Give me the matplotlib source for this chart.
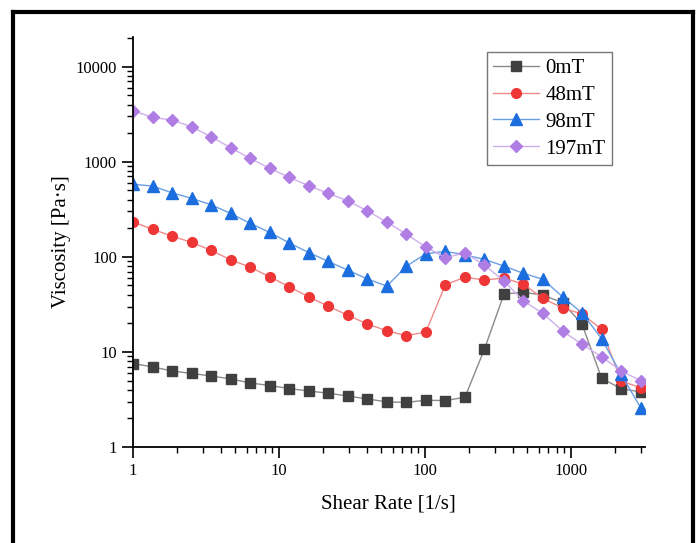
import numpy as np
import matplotlib.pyplot as plt
from matplotlib.lines import Line2D
from matplotlib.ticker import LogLocator, NullFormatter

plt.rcParams['font.family'] = ['Liberation Serif', 'DejaVu Serif']

shear_rate = [1, 1.361, 1.851, 2.519, 3.428, 4.664, 6.346, 8.635, 11.75, 15.99,
              21.75, 29.60, 40.27, 54.79, 74.55, 101.4, 138.0, 187.8, 255.5,
              347.6, 473.0, 643.6, 875.6, 1191, 1621, 2206, 3000]

visc_0mT = [7.55, 6.95, 6.31, 5.93, 5.59, 5.2, 4.72, 4.43, 4.12, 3.88, 3.68,
            3.44, 3.2, 2.98, 2.95, 3.1, 3.08, 3.33, 10.7, 40.5, 42.5, 39.5,
            33, 19.6, 5.3, 4.1, 3.8]
visc_48mT = [233, 195, 165, 142, 117, 93, 78, 61.6, 48.5, 37.9, 30.3, 24.3,
             19.7, 16.7, 14.8, 16.2, 51, 61, 57, 60, 51.5, 36.5, 29, 25,
             17.3, 4.95, 4.2]
visc_98mT = [580, 555, 472, 412, 353, 286, 225, 181, 140, 111, 89.5, 72.4,
             58.6, 49.2, 79.5, 108, 114, 105, 94, 80, 67, 58, 38, 25.7, 13.8,
             5.8, 2.6]
visc_197mT = [3440, 2930, 2745, 2335, 1833, 1403, 1086, 853, 686, 559, 465,
              388, 305, 232, 173, 127, 98, 110, 82, 55.7, 34.4, 25.4, 16.6,
              12, 8.9, 6.3, 5.0]

labels = ['0mT', '48mT', '98mT', '197mT']
series = [visc_0mT, visc_48mT, visc_98mT, visc_197mT]
marker_colors = ['#404040', '#ee3636', '#1c6ede', '#b07de4']
line_colors = ['#8a8a8a', '#f08a8a', '#6a9fe6', '#cfaeef']
markers = ['s', 'o', '^', 'D']
msizes = [6.5, 7, 8, 6.5]

fig = plt.figure(figsize=(7, 5.43), dpi=100)
ax = fig.add_axes([0.19, 0.1768, 0.731, 0.755])

for y, lab, mc, lc, m, ms in zip(series, labels, marker_colors, line_colors, markers, msizes):
    ax.plot(shear_rate, y, color=lc, lw=1.0, marker=m, ms=ms,
            markerfacecolor=mc, markeredgecolor=mc, label=lab)

ax.set_xscale('log')
ax.set_yscale('log')
ax.set_xlim(1, 3200)
ax.set_ylim(1, 20500)

ax.spines['top'].set_visible(False)
ax.spines['right'].set_visible(False)
for s in ['left', 'bottom']:
    ax.spines[s].set_linewidth(1.3)

ax.set_xticks([1, 10, 100, 1000])
ax.set_xticklabels(['1', '10', '100', '1000'])
ax.set_yticks([1, 10, 100, 1000, 10000])
ax.set_yticklabels(['1', '10', '100', '1000', '10000'])
ax.xaxis.set_minor_locator(LogLocator(base=10, subs=np.arange(2, 10)))
ax.yaxis.set_minor_locator(LogLocator(base=10, subs=np.arange(2, 10)))
ax.xaxis.set_minor_formatter(NullFormatter())
ax.yaxis.set_minor_formatter(NullFormatter())
ax.tick_params(which='major', direction='out', length=8, width=1.2, labelsize=12)
ax.tick_params(which='minor', direction='out', length=4, width=1.0)

ax.set_xlabel('Shear Rate [1/s]', fontsize=15, labelpad=11)
ax.set_ylabel('Viscosity [Pa·s]', fontsize=15, labelpad=3)

leg = ax.legend(loc='upper left', bbox_to_anchor=(0.696, 0.904), bbox_transform=fig.transFigure,
                fontsize=15, frameon=True, fancybox=False, handlelength=2.2,
                borderpad=0.3, labelspacing=0.35, handletextpad=0.3, borderaxespad=0)
leg.get_frame().set_edgecolor('#555555')
leg.get_frame().set_linewidth(1.0)

# black frame round the picture (left, top, right)
fig.add_artist(Line2D([0.019, 0.019], [0, 0.978], transform=fig.transFigure, color='black', lw=3))
fig.add_artist(Line2D([0.019, 0.99], [0.978, 0.978], transform=fig.transFigure, color='black', lw=3))
fig.add_artist(Line2D([0.99, 0.99], [0, 0.978], transform=fig.transFigure, color='black', lw=3))

fig.savefig('out.png', dpi=100)
